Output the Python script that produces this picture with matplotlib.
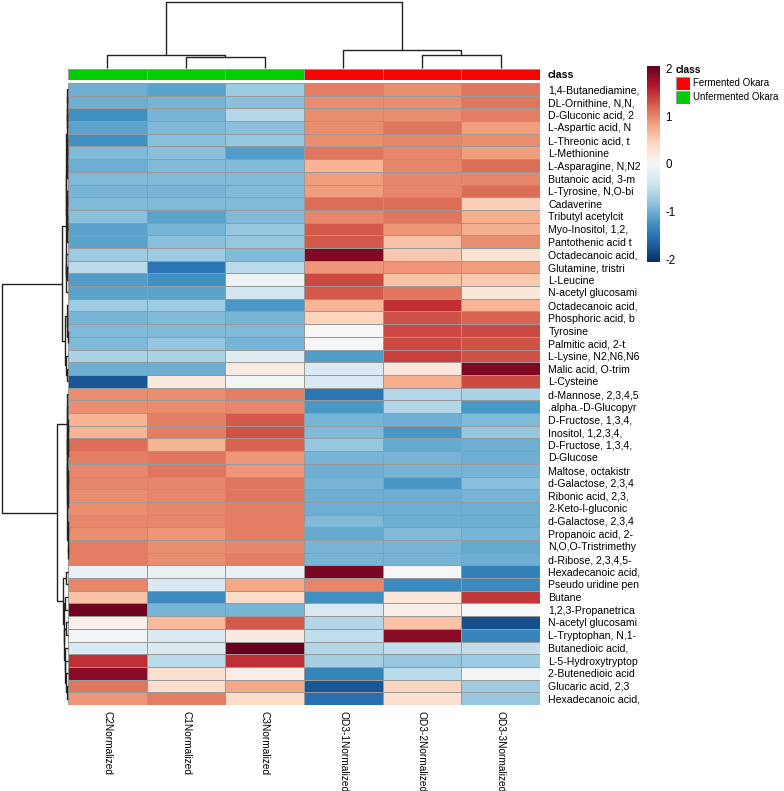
import numpy as np
import matplotlib
matplotlib.use("Agg")
import matplotlib.pyplot as plt
from matplotlib.patches import Rectangle

plt.rcParams['font.family'] = ['Liberation Sans', 'DejaVu Sans']

# ---------------- data ----------------
samples = ["C2Normalized", "C1Normalized", "C3Normalized",
           "OD3-1Normalized", "OD3-2Normalized", "OD3-3Normalized"]
sample_class = ["Unfermented Okara"] * 3 + ["Fermented Okara"] * 3
class_colors = {"Fermented Okara": "#FF0000", "Unfermented Okara": "#00CD00"}

metabolites = [
    "1,4-Butanediamine,", "DL-Ornithine, N,N,", "D-Gluconic acid, 2", "L-Aspartic acid, N",
    "L-Threonic acid, t", "L-Methionine", "L-Asparagine, N,N2", "Butanoic acid, 3-m",
    "L-Tyrosine, N,O-bi", "Cadaverine", "Tributyl acetylcit", "Myo-Inositol, 1,2,",
    "Pantothenic acid t", "Octadecanoic acid,", "Glutamine, tristri", "L-Leucine",
    "N-acetyl glucosami", "Octadecanoic acid,", "Phosphoric acid, b", "Tyrosine",
    "Palmitic acid, 2-t", "L-Lysine, N2,N6,N6", "Malic acid, O-trim", "L-Cysteine",
    "d-Mannose, 2,3,4,5", ".alpha.-D-Glucopyr", "D-Fructose, 1,3,4,", "Inositol, 1,2,3,4,",
    "D-Fructose, 1,3,4,", "D-Glucose", "Maltose, octakistr", "d-Galactose, 2,3,4",
    "Ribonic acid, 2,3,", "2-Keto-l-gluconic", "d-Galactose, 2,3,4", "Propanoic acid, 2-",
    "N,O,O-Tristrimethy", "d-Ribose, 2,3,4,5-", "Hexadecanoic acid,", "Pseudo uridine pen",
    "Butane", "1,2,3-Propanetrica", "N-acetyl glucosami", "L-Tryptophan, N,1-",
    "Butanedioic acid,", "L-5-Hydroxytryptop", "2-Butenedioic acid", "Glucaric acid, 2,3",
    "Hexadecanoic acid,",
]

# row-scaled values, columns in the order of `samples`
C2 = [-1.00, -1.00, -1.25, -1.10, -1.25, -0.90, -1.00, -0.90, -0.95, -0.90, -0.85, -1.10, -1.10,
      -0.75, -0.55, -1.15, -1.10, -0.75, -0.95, -0.90, -0.90, -0.65, -1.00, -1.75,
      0.95, 0.95, 0.70, 0.70, 1.15, 1.05, 1.00, 1.00, 0.95, 0.95, 1.00, 0.95, 1.05, 1.05,
      -0.15, 1.00, 0.60, 2.00, 0.10, -0.05, -0.30, 1.50, 1.85, 1.10, 0.90]
C1 = [-1.10, -0.95, -0.95, -0.90, -0.85, -0.85, -0.90, -0.90, -0.95, -0.90, -1.10, -0.95, -0.85,
      -0.75, -1.50, -1.25, -1.10, -0.75, -0.90, -0.90, -0.80, -0.65, -1.00, 0.20,
      0.95, 0.95, 1.05, 1.05, 0.70, 1.10, 1.10, 1.00, 1.00, 1.00, 1.00, 0.90, 0.95, 0.95,
      -0.15, -0.30, -1.30, -0.95, 0.65, -0.30, -0.30, -0.55, 0.35, 0.35, 1.05]
C3 = [-0.75, -0.85, -0.60, -0.85, -0.80, -1.15, -0.90, -0.90, -0.90, -0.90, -0.90, -0.80, -0.80,
      -0.90, -0.55, -0.10, -0.40, -1.20, -0.95, -0.90, -0.95, -0.25, 0.20, -0.05,
      1.05, 1.00, 1.25, 1.30, 1.20, 0.90, 0.90, 1.10, 1.10, 1.05, 1.05, 1.05, 1.00, 1.05,
      -0.15, 0.80, 0.40, -0.95, 1.25, 0.20, 2.10, 1.50, 0.15, 0.80, 0.40]
OD31 = [1.05, 0.95, 0.95, 0.95, 0.95, 1.10, 0.70, 0.85, 0.85, 1.15, 1.00, 1.25, 1.25,
        1.90, 0.90, 1.35, 1.25, 0.70, 0.45, 0.00, 0.00, -1.15, -0.30, -0.30,
        -1.50, -1.20, -0.95, -0.90, -0.80, -0.95, -1.00, -0.95, -1.00, -1.00, -0.90, -1.05, -0.95, -0.95,
        1.95, 1.00, -1.25, -0.30, -0.60, -0.50, -0.60, -0.70, -1.35, -1.75, -1.55]
OD32 = [0.95, 0.95, 0.95, 1.10, 1.00, 1.00, 1.00, 1.00, 1.00, 1.15, 1.10, 0.90, 0.60,
        0.55, 0.90, 0.60, 1.10, 1.50, 1.30, 1.35, 1.35, 1.40, 0.25, 0.75,
        -0.60, -0.60, -1.00, -1.20, -1.05, -0.95, -0.95, -1.20, -1.00, -1.00, -1.00, -0.90, -0.95, -0.95,
        0.00, -1.30, 0.25, 0.15, 0.60, 1.85, -0.50, -0.80, -0.55, 0.45, 0.35]
OD33 = [1.10, 1.10, 1.05, 0.85, 0.95, 0.85, 1.15, 1.00, 1.15, 0.50, 0.75, 0.75, 0.95,
        0.30, 0.85, 0.55, 0.25, 0.70, 1.20, 1.35, 1.30, 1.30, 1.90, 1.35,
        -0.65, -1.20, -0.90, -0.80, -1.00, -1.00, -0.95, -0.85, -0.95, -1.00, -1.00, -0.95, -1.05, -1.00,
        -1.40, -1.30, 1.45, 0.00, -1.80, -1.35, -0.50, -0.75, -0.05, -0.75, -0.80]

# dendrogram structures: (left, right, merge height); leaves are row/column indices
col_tree = ((0, (1, 2, 0.167), 0.197), (3, (4, 5, 0.197), 0.27), 1.0)

A1 = ((((0, 1, 0.008), (2, 3, 0.010), 0.015), ((4, 5, 0.008), (6, 7, 0.012), 0.018), 0.022),
      ((8, 9, 0.010), ((10, 11, 0.009), 12, 0.014), 0.020), 0.026)
A2 = ((13, (14, 15, 0.015), 0.025), 16, 0.030)
B = ((17, (18, (19, 20, 0.005), 0.012), 0.020), (21, (22, 23, 0.020), 0.028), 0.045)
C_rest = ((((26, 27, 0.004), (28, 29, 0.004), 0.006), ((30, 31, 0.003), (32, 33, 0.003), 0.005), 0.008),
          ((34, 35, 0.004), (36, 37, 0.003), 0.006), 0.010)
C = (24, (25, C_rest, 0.012), 0.016)
D = ((38, 39, 0.030),
     ((40, 41, 0.040), ((42, 43, 0.035), (44, (45, (46, (47, 48, 0.020), 0.030), 0.040), 0.050), 0.055), 0.065),
     0.080)
row_tree = (((A1, A2, 0.032), B, 0.091), (C, D, 0.167), 1.0)

# ---------------- figure ----------------
W, H = 784, 791
fig = plt.figure(figsize=(W / 100, H / 100), dpi=100)


def ax_px(x0, y0, x1, y1):
    return fig.add_axes([x0 / W, 1 - y1 / H, (x1 - x0) / W, (y1 - y0) / H])


data = np.column_stack([C2, C1, C3, OD31, OD32, OD33])
nrow, ncol = data.shape
cmap = plt.get_cmap("RdBu_r")
vmin, vmax = -2.05, 2.05

HX0, HX1, HY0, HY1 = 68, 540, 83, 705
FS = 7.3

# heatmap
ax = ax_px(HX0, HY0, HX1, HY1)
ax.pcolormesh(np.arange(ncol + 1), np.arange(nrow + 1), data, cmap=cmap, vmin=vmin, vmax=vmax,
              edgecolors="#999999", linewidth=0.7)
ax.set_xlim(0, ncol)
ax.set_ylim(nrow, 0)
for s in ax.spines.values():
    s.set_visible(False)
ax.yaxis.tick_right()
ax.set_yticks(np.arange(nrow) + 0.5)
ax.set_yticklabels(metabolites, fontsize=FS + 0.3)
ax.set_xticks(np.arange(ncol) + 0.5)
ax.set_xticklabels(samples, rotation=270, fontsize=FS)
ax.tick_params(length=0, pad=4)
ax.tick_params(axis="y", pad=6)

# class annotation bar
axc = ax_px(HX0, 69, HX1, 80)
for j, c in enumerate(sample_class):
    axc.add_patch(Rectangle((j, 0), 1, 1, facecolor=class_colors[c], edgecolor="#999999", lw=0.7))
axc.set_xlim(0, ncol)
axc.set_ylim(0, 1)
axc.axis("off")
axc.text(ncol + 0.1, 0.5, "class", transform=axc.transData, fontsize=FS + 0.3, fontweight="bold",
         va="center", ha="left")


def draw_tree(axd, node, orient):
    if isinstance(node, int):
        return node + 0.5, 0.0
    l, r, h = node
    pl, hl = draw_tree(axd, l, orient)
    pr, hr = draw_tree(axd, r, orient)
    xs_pos = [pl, pl, pr, pr]
    hs = [hl, h, h, hr]
    if orient == "top":
        axd.plot(xs_pos, hs, color="#222222", lw=1.0, clip_on=False, solid_capstyle="butt")
    else:
        axd.plot(hs, xs_pos, color="#222222", lw=1.0, clip_on=False, solid_capstyle="butt")
    return (pl + pr) / 2, h


# column dendrogram
axt = ax_px(HX0, 2, HX1, 68)
draw_tree(axt, col_tree, "top")
axt.set_xlim(0, ncol)
axt.set_ylim(0, 1.0)
axt.axis("off")

# row dendrogram
axl = ax_px(2, HY0, HX0, HY1)
draw_tree(axl, row_tree, "left")
axl.set_xlim(1.0, 0)
axl.set_ylim(nrow, 0)
axl.axis("off")

# colorbar
axb = ax_px(647, 66, 660, 262)
grad = np.linspace(vmax, vmin, 256).reshape(-1, 1)
axb.imshow(grad, aspect="auto", cmap=cmap, vmin=vmin, vmax=vmax,
           extent=[0, 1, vmin, vmax])
axb.set_xticks([])
axb.yaxis.tick_right()
axb.set_yticks([2, 1, 0, -1, -2])
axb.set_yticklabels(["2", "1", "0", "-1", "-2"], fontsize=8.3)
axb.tick_params(length=0, pad=4)
for s in axb.spines.values():
    s.set_visible(False)

# class legend
fig.text(676 / W, 1 - 70 / H, "class", fontsize=FS, fontweight="bold", va="center", ha="left")
for k, name in enumerate(["Fermented Okara", "Unfermented Okara"]):
    y0 = 77 + 14 * k
    axp = ax_px(676, y0, 690, y0 + 13)
    axp.add_patch(Rectangle((0, 0), 1, 1, facecolor=class_colors[name], edgecolor="#999999", lw=0.7))
    axp.set_xlim(0, 1)
    axp.set_ylim(0, 1)
    axp.axis("off")
    fig.text(693 / W, 1 - (y0 + 6.5) / H, name, fontsize=FS - 0.3, va="center", ha="left")

fig.savefig("out.png", dpi=100)
